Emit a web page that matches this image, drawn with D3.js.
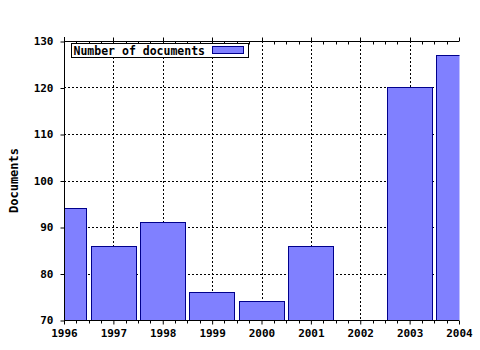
<!DOCTYPE html>
<html>
<head>
<meta charset="utf-8">
<script src="https://cdn.jsdelivr.net/npm/d3@7/dist/d3.min.js"></script>
<style>
  body { margin: 0; background: #fff; }
  text { font-family: "DejaVu Sans Mono", "Liberation Mono", monospace; font-weight: bold; fill: #000; }
</style>
</head>
<body>
<div id="chart"></div>
<script>
// data
var years = [1996, 1997, 1998, 1999, 2000, 2001, 2002, 2003, 2004];
var documents = [94, 86, 91, 76, 74, 86, null, 120, 127];
var yTicks = [70, 80, 90, 100, 110, 120, 130];
var seriesName = 'Number of documents';

var width = 480, height = 350;
var margin = {top: 41, right: 21, bottom: 30, left: 64};
var w = width - margin.left - margin.right,
    h = height - margin.top - margin.bottom;

var svg = d3.select('#chart').append('svg')
    .attr('width', width)
    .attr('height', height);

var g = svg.append('g')
    .attr('transform', 'translate(' + margin.left + ',' + margin.top + ')');

var x = d3.scaleLinear().domain([1996, 2004]).range([0, w]);
var y = d3.scaleLinear().domain([70, 130]).range([h, 0]);
var step = x(1997) - x(1996);
var barW = step * 0.92;

// clip for bars at the plot edges
svg.append('defs').append('clipPath').attr('id', 'plot-clip')
    .append('rect').attr('x', 0).attr('y', 0).attr('width', w + 0.5).attr('height', h);

// grid
g.selectAll('.grid-y')
    .data(yTicks.slice(1, -1))
    .enter().append('line')
    .attr('class', 'grid-y')
    .attr('x1', 0).attr('x2', w)
    .attr('y1', function(d) { return Math.round(y(d)) + 0.5; })
    .attr('y2', function(d) { return Math.round(y(d)) + 0.5; })
    .style('stroke', '#000')
    .style('stroke-dasharray', '2,2');

g.selectAll('.grid-x')
    .data(years.slice(1, -1))
    .enter().append('line')
    .attr('class', 'grid-x')
    .attr('y1', 0).attr('y2', h)
    .attr('x1', function(d) { return Math.round(x(d)) + 0.5; })
    .attr('x2', function(d) { return Math.round(x(d)) + 0.5; })
    .style('stroke', '#000')
    .style('stroke-dasharray', '2,2');

// bars
var barData = years.map(function(d, i) { return {year: d, value: documents[i]}; })
    .filter(function(d) { return d.value !== null; });

g.append('g').attr('clip-path', 'url(#plot-clip)')
    .selectAll('rect')
    .data(barData)
    .enter().append('rect')
    .attr('x', function(d) { return Math.round(x(d.year) - barW / 2) + 0.5; })
    .attr('width', Math.round(barW))
    .attr('y', function(d) { return Math.round(y(d.value)) + 0.5; })
    .attr('height', function(d) { return Math.round(h - y(d.value)); })
    .style('fill', '#8080ff')
    .style('stroke', '#00008b')
    .style('stroke-width', 1);

// minor ticks (quarter years)
var minor = [];
for (var i = 0; i < years.length - 1; i++) {
    for (var k = 1; k < 4; k++) minor.push(years[i] + k / 4);
}

// bottom axis
var xAxis = d3.axisBottom(x)
    .tickValues(years)
    .tickFormat(d3.format('d'))
    .tickSize(4)
    .tickPadding(5);

var gx = g.append('g')
    .attr('transform', 'translate(0,' + (h + 0.5) + ')')
    .call(xAxis);
gx.select('.domain').attr('d', 'M0,0H' + w);
gx.selectAll('text').style('font-size', '11px');

g.append('g')
    .attr('transform', 'translate(0,' + (h + 0.5) + ')')
    .selectAll('line')
    .data(minor)
    .enter().append('line')
    .attr('x1', function(d) { return Math.round(x(d)) + 0.5; })
    .attr('x2', function(d) { return Math.round(x(d)) + 0.5; })
    .attr('y1', 0).attr('y2', 3)
    .style('stroke', '#000');

// top axis
var gt = g.append('g').attr('transform', 'translate(0,0.5)');
gt.append('line').attr('x1', 0).attr('x2', w).style('stroke', '#000');
gt.selectAll('.maj')
    .data(years)
    .enter().append('line')
    .attr('x1', function(d) { return Math.round(x(d)) + 0.5; })
    .attr('x2', function(d) { return Math.round(x(d)) + 0.5; })
    .attr('y1', -4).attr('y2', 0)
    .style('stroke', '#000');
gt.selectAll('.min')
    .data(minor)
    .enter().append('line')
    .attr('x1', function(d) { return Math.round(x(d)) + 0.5; })
    .attr('x2', function(d) { return Math.round(x(d)) + 0.5; })
    .attr('y1', 0).attr('y2', 3)
    .style('stroke', '#000');

// left axis
var yAxis = d3.axisLeft(y)
    .tickValues(yTicks)
    .tickSize(4)
    .tickPadding(7);

var gy = g.append('g')
    .attr('transform', 'translate(0.5,0)')
    .call(yAxis);
gy.select('.domain').attr('d', 'M0,-4V' + h);
gy.selectAll('text').style('font-size', '11px');
gy.selectAll('.tick line').attr('y1', 0.5).attr('y2', 0.5);

// y label
svg.append('text')
    .attr('transform', 'translate(18,' + (margin.top + h / 2) + ') rotate(-90)')
    .attr('text-anchor', 'middle')
    .style('font-size', '12px')
    .text('Documents');

// legend
var lg = svg.append('g').attr('transform', 'translate(71.5,43.5)');
lg.append('rect')
    .attr('width', 177).attr('height', 14)
    .style('fill', '#fff').style('stroke', '#000');
lg.append('text')
    .attr('x', 2).attr('y', 11)
    .style('font-size', '11.5px')
    .text(seriesName);
lg.append('rect')
    .attr('x', 141).attr('y', 3)
    .attr('width', 31).attr('height', 7)
    .style('fill', '#8080ff').style('stroke', '#00008b');
</script>
</body>
</html>
